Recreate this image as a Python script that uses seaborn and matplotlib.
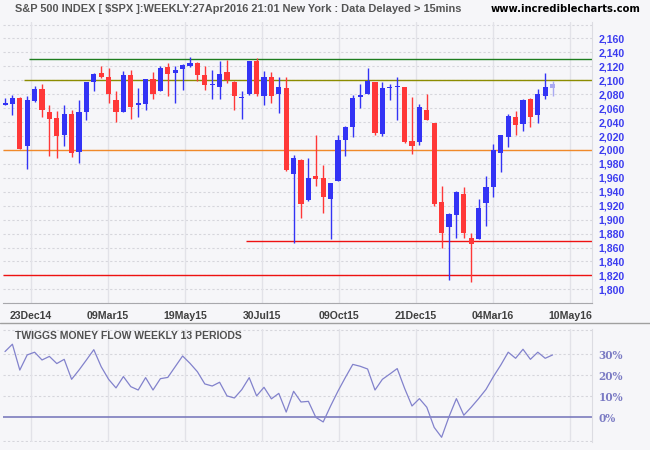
import matplotlib
matplotlib.use("Agg")
import matplotlib.pyplot as plt
from matplotlib.lines import Line2D
import seaborn as sns
import numpy as np
import pandas as pd

# ---------------- data ----------------
opens = [2065, 2065.5, 2075, 2005, 2070, 2088, 2054, 2046, 2021, 2051,
         1997, 2054, 2097, 2110, 2105, 2072, 2055, 2108, 2064, 2065.5,
         2102, 2084, 2119.5, 2110, 2116, 2121, 2125, 2108, 2093, 2091,
         2112, 2098, 2074, 2080, 2127, 2078, 2104, 2081, 2089, 1965,
         1986, 1928, 1963, 1960, 1929, 1955, 2015, 2032.5, 2076, 2081,
         2097, 2022.5, 2088.5, 2090, 2091, 2013, 2011, 2058, 2038, 1926,
         1889, 1906, 1937, 1873, 1872, 1924, 1947, 1996, 2019, 2047,
         2037, 2073, 2050, 2077, 2089]
highs = [2075, 2079, 2076, 2078, 2092, 2094, 2064, 2056, 2065, 2057,
         2072, 2097, 2111, 2120, 2117, 2084, 2114, 2115, 2089, 2102.5,
         2112, 2121, 2125, 2121, 2124, 2134, 2126, 2121, 2115, 2127,
         2129.5, 2099, 2084, 2128, 2132, 2114, 2112, 2105, 2104, 1993,
         1987, 1989, 2021, 1979, 1952, 2021, 2034, 2079, 2094, 2117,
         2097, 2097, 2095, 2104, 2091, 2076.5, 2066, 2081, 2038, 1949,
         1909, 1940.5, 1947.5, 1881.5, 1930, 1962.7, 2008, 2022, 2052, 2056,
         2073, 2074, 2087.5, 2110, 2099]
lows = [2064, 2050, 2001, 1972, 2069, 2047, 1992, 1988, 2005, 1990,
        1981, 2043, 2085, 2103, 2067, 2040, 2055, 2045, 2048, 2057,
        2073, 2084, 2078, 2068, 2086, 2119.5, 2099, 2086, 2073, 2073,
        2096, 2057, 2044, 2079, 2077, 2064, 2068, 2053, 1970, 1867,
        1903, 1927, 1949, 1909, 1872, 1955, 1991, 2018, 2060, 2081,
        2022, 2020, 2071, 2042.5, 2010, 1994, 2007, 2043, 1919, 1859,
        1813, 1873, 1873, 1810, 1872, 1891, 1932, 1968.5, 2004, 2021.5,
        2027, 2033, 2039, 2073, 2077]
closes = [2068, 2075, 2002, 2071, 2088, 2058, 2045, 2020, 2052, 1995,
          2055, 2097, 2109, 2104, 2080, 2054, 2108, 2061, 2067, 2102,
          2081, 2118, 2108.5, 2115, 2122, 2125, 2107, 2093, 2094, 2109.5,
          2101, 2077, 2076.5, 2127, 2080, 2104, 2078, 2091, 1971, 1989,
          1922, 1960, 1958, 1932, 1952, 2015, 2033.5, 2075, 2079, 2099,
          2024, 2089, 2090, 2091.3, 2012, 2005, 2061, 2043.5, 1922, 1880.5,
          1908, 1940, 1880.5, 1865, 1917, 1947, 2000, 2021.5, 2049, 2036,
          2072, 2047, 2080, 2090, 2095]

tmf = [31.3, 34.8, 22.5, 29.7, 31.0, 27.3, 29.0, 25.6, 27.6, 18.1,
       22.5, 27.3, 32.2, 24.1, 18.1, 14.0, 19.4, 14.6, 13.0, 18.9,
       13.0, 18.4, 19.0, 24.1, 29.2, 25.7, 21.7, 15.9, 14.9, 16.7,
       10.2, 9.2, 13.2, 18.9, 10.2, 14.3, 8.8, 11.4, 2.5, 12.4,
       7.3, 7.6, 0.0, -2.2, 5.4, 12.5, 19.0, 25.2, 24.3, 23.0,
       13.0, 18.1, 20.6, 23.2, 13.8, 5.4, 8.9, 4.8, -4.8, -9.5,
       0.3, 8.9, 1.0, 4.8, 8.9, 13.3, 19.4, 24.9, 31.0, 28.1,
       32.4, 27.6, 31.0, 28.1, 29.7]

date_labels = ["23Dec14", "09Mar15", "19May15", "30Jul15",
               "09Oct15", "21Dec15", "04Mar16", "10May16"]
price_ticks = [1800, 1820, 1840, 1860, 1880, 1900, 1920, 1940, 1960, 1980, 2000,
               2020, 2040, 2060, 2080, 2100, 2120, 2140, 2160]
tmf_ticks = [0, 10, 20, 30]
levels = [2130, 2100, 2000, 1870, 1820]
level_colors = ["#1e7d1e", "#8c8c00", "#f0892a", "#ee1111", "#ee1111"]

title = "S&P 500 INDEX [ $SPX ]:WEEKLY:27Apr2016 21:01 New York : Data Delayed > 15mins"
site = "www.incrediblecharts.com"
tmf_title = "TWIGGS MONEY FLOW WEEKLY 13 PERIODS"

# ---------------- style ----------------
sns.set_style("white")
plt.rcParams["font.family"] = ["Liberation Sans", "DejaVu Sans"]
BG = "#f6f6f9"

df = pd.DataFrame({"o": opens, "h": highs, "l": lows, "c": closes, "tmf": tmf})
df["i"] = np.arange(len(df))

W, H = 650, 450
def rect(x0, y0, x1, y1):
    return [x0 / W, 1 - y1 / H, (x1 - x0) / W, (y1 - y0) / H]

fig = plt.figure(figsize=(6.5, 4.5), dpi=100, facecolor=BG)
ax = fig.add_axes(rect(3, 22, 592, 303.3))
ax2 = fig.add_axes(rect(3, 329.3, 592, 441.7))
for a in (ax, ax2):
    a.set_facecolor(BG)

px_per_bar = 7.4
xl = (-2 / px_per_bar, (592 - 5) / px_per_bar)
tick_pos = [(31 - 5) / px_per_bar + k * 77 / px_per_bar for k in range(len(date_labels))]

# ---- main panel ----
ax.set_xlim(*xl)
ax.set_ylim(1780, 2183.6)
for g in range(1780, 2181, 20):
    ax.axhline(g, color="#d6d6dc", lw=0.8, ls=(0, (2, 2)), zorder=0)
for t in tick_pos:
    ax.axvline(t, color="#e2e2e8", lw=1.0, zorder=0)

up = df["c"] >= df["o"]
cols = np.where(up, "#3333f5", "#ff3838").astype(object)
cols[-1] = "#a9a9f2"
ax.vlines(df["i"], df["l"], df["h"], colors=list(cols), lw=1.0, zorder=3)
body_h = np.maximum((df["c"] - df["o"]).abs(), 1.3)
ax.bar(df["i"], body_h, bottom=np.minimum(df["o"], df["c"]), width=0.7,
       color=list(cols), linewidth=0, zorder=4)

starts = [(29 - 5) / px_per_bar, (24 - 5) / px_per_bar, xl[0], (246 - 5) / px_per_bar, xl[0]]
for lv, c, s in zip(levels, level_colors, starts):
    ax.hlines(lv, s, xl[1], color=c, lw=1.0, zorder=2)

ax.yaxis.tick_right()
ax.set_yticks(price_ticks)
ax.set_yticklabels([f"{v:,}" for v in price_ticks], fontsize=7.6, fontweight="bold",
                   color="#3c3cf0")
ax.set_xticks(tick_pos)
ax.set_xticklabels(date_labels, fontsize=7.6, fontweight="bold", color="#404040")
ax.tick_params(axis="both", length=0)
ax.tick_params(axis="y", pad=4.5)
ax.tick_params(axis="x", pad=5.5)
for s in ("top", "left"):
    ax.spines[s].set_visible(False)
ax.spines["right"].set_color("#dcdce2")
ax.spines["bottom"].set_color("#a8a8ac")
ax.set_xlabel("")
ax.set_ylabel("")

# ---- lower panel ----
ax2.set_xlim(*xl)
ax2.set_ylim(-11.6, 41.9)
for g in (10, 20, 30, 41.6, -11.3):
    ax2.axhline(g, color="#d6d6dc", lw=0.8, ls=(0, (2, 2)), zorder=0)
for t in tick_pos:
    ax2.axvline(t, color="#e2e2e8", lw=1.0, zorder=0)
ax2.axhline(0, color="#7272b8", lw=1.1, zorder=1)
sns.lineplot(data=df, x="i", y="tmf", ax=ax2, color="#8282cc", lw=0.9, zorder=3)
ax2.yaxis.tick_right()
ax2.set_yticks(tmf_ticks)
ax2.set_yticklabels([f"{v}%" for v in tmf_ticks], fontsize=7.6, fontweight="bold",
                    color="#7b7bc4", family="DejaVu Serif")
ax2.set_xticks(tick_pos)
ax2.set_xticklabels([])
ax2.tick_params(axis="both", length=0)
ax2.tick_params(axis="y", pad=4.5)
for s in ("top", "left", "bottom"):
    ax2.spines[s].set_visible(False)
ax2.spines["right"].set_color("#dcdce2")
ax2.set_xlabel("")
ax2.set_ylabel("")

# ---- texts & separator ----
fig.add_artist(Line2D([0, 1], [1 - 323 / H] * 2, color="#a0a0a0", lw=1.0))
fig.text(15 / W, 1 - 9 / H, title, ha="left", va="center", fontsize=7.9,
         fontweight="bold", color="#555555")
fig.text(641 / W, 1 - 9 / H, site, ha="right", va="center", fontsize=7.2,
         fontweight="bold", color="black", family="DejaVu Sans")
fig.text(15 / W, 1 - 336 / H, tmf_title, ha="left", va="center", fontsize=7.5,
         fontweight="bold", color="#505050")

fig.savefig("out.png", dpi=100, facecolor=BG)
